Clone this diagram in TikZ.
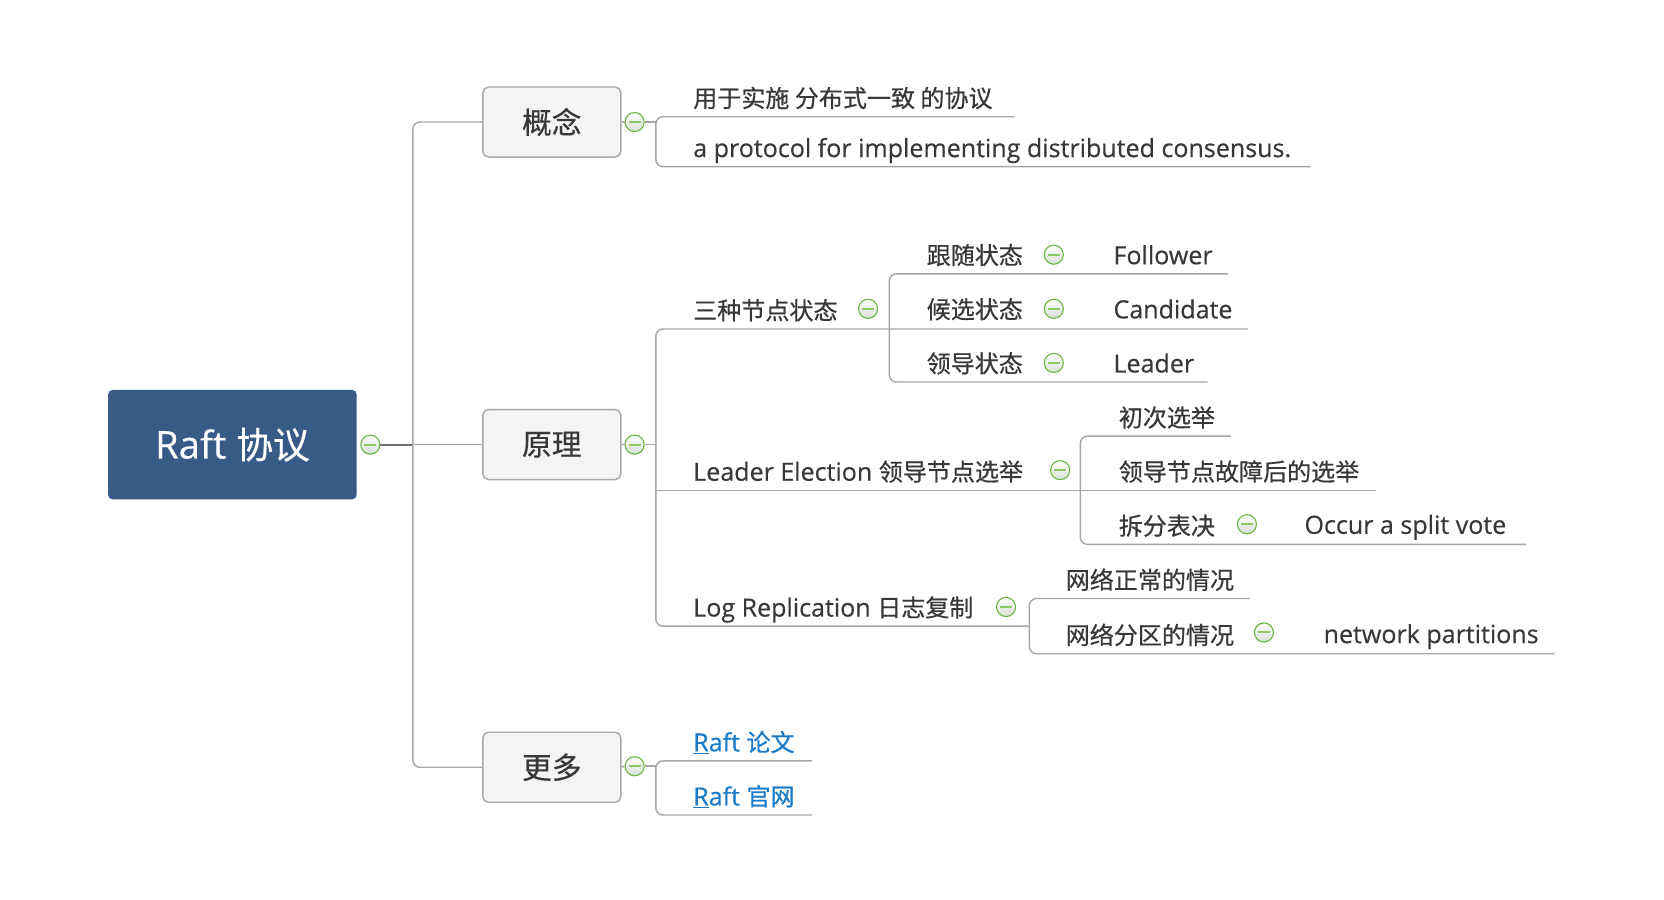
\documentclass[tikz,border=0pt]{standalone}
\usepackage{fontspec}
\setmainfont{Open Sans}[FakeBold=0.35, AutoFakeBold=0.35]
\newfontfamily\cjk{Noto Sans CJK SC}[Scale=0.96, FakeBold=0.5]
\definecolor{txt}{HTML}{383838}
\definecolor{linegray}{HTML}{A6A6A6}
\definecolor{darkline}{HTML}{707070}
\definecolor{boxborder}{HTML}{A8A8A8}
\definecolor{boxfill}{HTML}{F4F4F4}
\definecolor{rootblue}{HTML}{375A87}
\definecolor{linkblue}{HTML}{1A7BC9}
\definecolor{foldgreen}{HTML}{6DB844}
\definecolor{minusgreen}{HTML}{8CC863}
\definecolor{foldfill}{HTML}{D9DFD4}
\begin{document}
\begin{tikzpicture}[x=0.75pt,y=-0.75pt,
  conn/.style={draw=linegray, line width=1pt},
  brk/.style={conn, rounded corners=5pt},
  lbl/.style={anchor=base west, inner sep=0pt, text=txt, font=\fontsize{17.7pt}{21pt}\selectfont},
  lnk/.style={lbl, text=linkblue},
  topic/.style={draw=boxborder, fill=boxfill, rounded corners=4pt, line width=1pt, minimum width=97.5pt, minimum height=49.5pt, text=txt, font=\fontsize{21.9pt}{25pt}\selectfont\cjk},
  root/.style={fill=rootblue, rounded corners=3pt, minimum width=175.5pt, minimum height=77.25pt, text=white, font=\fontsize{27pt}{31pt}\selectfont},
  fold/.style={circle, draw=foldgreen, line width=0.8pt, top color=white, bottom color=foldfill, minimum size=13.5pt, inner sep=0pt,
    path picture={\draw[draw=minusgreen, line width=1.4pt] ([xshift=-4.2pt]path picture bounding box.center) -- ([xshift=4.2pt]path picture bounding box.center);}}
]
\useasboundingbox (0,0) rectangle (1568,848);
\fill[white] (0,0) rectangle (1568,848);

% root and main topics
\node[root] (root) at (219,419) {Raft {\cjk 协议}};
\node[fold] (c0) at (349,419) {};
\node[topic] (b1) at (520,115) {概念};
\node[topic] (b2) at (520,419) {原理};
\node[topic] (b3) at (520,723) {更多};
\node[fold] (c1) at (598,115) {};
\node[fold] (c2) at (598,419) {};
\node[fold] (c3) at (598,722) {};

\coordinate (tr) at (389,419);
\draw[draw=darkline, line width=1.2pt] (c0.east) -- (tr);
\draw[conn] (tr) -- (b2.west);
\draw[brk] (b1.west) -| (tr) |- (b3.west);
\draw[conn] (b1.east) -- (c1.west);
\draw[conn] (b2.east) -- (c2.west);
\draw[conn] (b3.east) -- (c3.west);

% 概念
\coordinate (k1) at (618,115);
\coordinate (e11) at (956,110);
\coordinate (e12) at (1235,157);
\draw[conn] (c1.east) -- (k1);
\draw[brk] (e11) -- (e11 -| k1) -- (e12 -| k1) -- (e12);
\node[lbl] (t11) at (653,101) {\cjk 用于实施 分布式一致 的协议};
\node[lbl] (t12) at (653,148) {a protocol for implementing distributed consensus.};

% 原理
\coordinate (k2) at (618,419);
\coordinate (eCand) at (1176,310);
\coordinate (eLog) at (970,590);
\coordinate (eLE) at (1297,462);
\draw[conn] (c2.east) -- (k2);
\draw[brk] (eCand) -- (eCand -| k2) -- (eLog -| k2) -- (eLog);
\draw[conn] (eLE -| k2) -- (eLE);
\node[lbl] (t21) at (653,301) {\cjk 三种节点状态};
\node[lbl] (t22) at (653,453) {Leader Election {\cjk 领导节点选举}};
\node[lbl] (t23) at (653,581) {Log Replication {\cjk 日志复制}};
\node[fold] (c21) at (818,291) {};
\node[fold] (c22) at (999,443) {};
\node[fold] (c23) at (948,572) {};

% 三种节点状态
\coordinate (k3) at (838,310);
\coordinate (eFol) at (1157,258);
\coordinate (eLea) at (1138,360);
\draw[brk] (eFol) -- (eFol -| k3) -- (eLea -| k3) -- (eLea);
\node[lbl] (t31) at (873,249) {\cjk 跟随状态};
\node[lbl] (t32) at (873,300) {\cjk 候选状态};
\node[lbl] (t33) at (873,351) {\cjk 领导状态};
\node[fold] (c31) at (993,240) {};
\node[fold] (c32) at (993,291) {};
\node[fold] (c33) at (993,342) {};
\node[lbl] (t31a) at (1049,249) {Follower};
\node[lbl] (t32a) at (1049,300) {Candidate};
\node[lbl] (t33a) at (1049,351) {Leader};

% Leader Election
\coordinate (k4) at (1018,462);
\coordinate (eFirst) at (1160,411);
\coordinate (eSplit) at (1438,513);
\draw[brk] (eFirst) -- (eFirst -| k4) -- (eSplit -| k4) -- (eSplit);
\node[lbl] (t41) at (1054,402) {\cjk 初次选举};
\node[lbl] (t42) at (1054,453) {\cjk 领导节点故障后的选举};
\node[lbl] (t43) at (1054,504) {\cjk 拆分表决};
\node[fold] (c43) at (1175,494) {};
\node[lbl] (t43a) at (1229,503) {Occur a split vote};

% Log Replication
\coordinate (k5) at (970,590);
\coordinate (eNorm) at (1178,564);
\coordinate (ePart) at (1465,616);
\draw[brk] (eNorm) -- (eNorm -| k5) -- (ePart -| k5) -- (ePart);
\node[lbl] (t51) at (1004,555) {\cjk 网络正常的情况};
\node[lbl] (t52) at (1004,607) {\cjk 网络分区的情况};
\node[fold] (c52) at (1191,596) {};
\node[lbl] (t52a) at (1247,606) {network partitions};

% 更多
\coordinate (k6) at (618,722);
\coordinate (ePaper) at (765,717);
\coordinate (eSite) at (765,768);
\draw[conn] (c3.east) -- (k6);
\draw[brk] (ePaper) -- (ePaper -| k6) -- (eSite -| k6) -- (eSite);
\node[lnk] (t61) at (653,708) {\underline{R}aft {\cjk 论文}};
\node[lnk] (t62) at (653,759) {\underline{R}aft {\cjk 官网}};
\end{tikzpicture}
\end{document}
